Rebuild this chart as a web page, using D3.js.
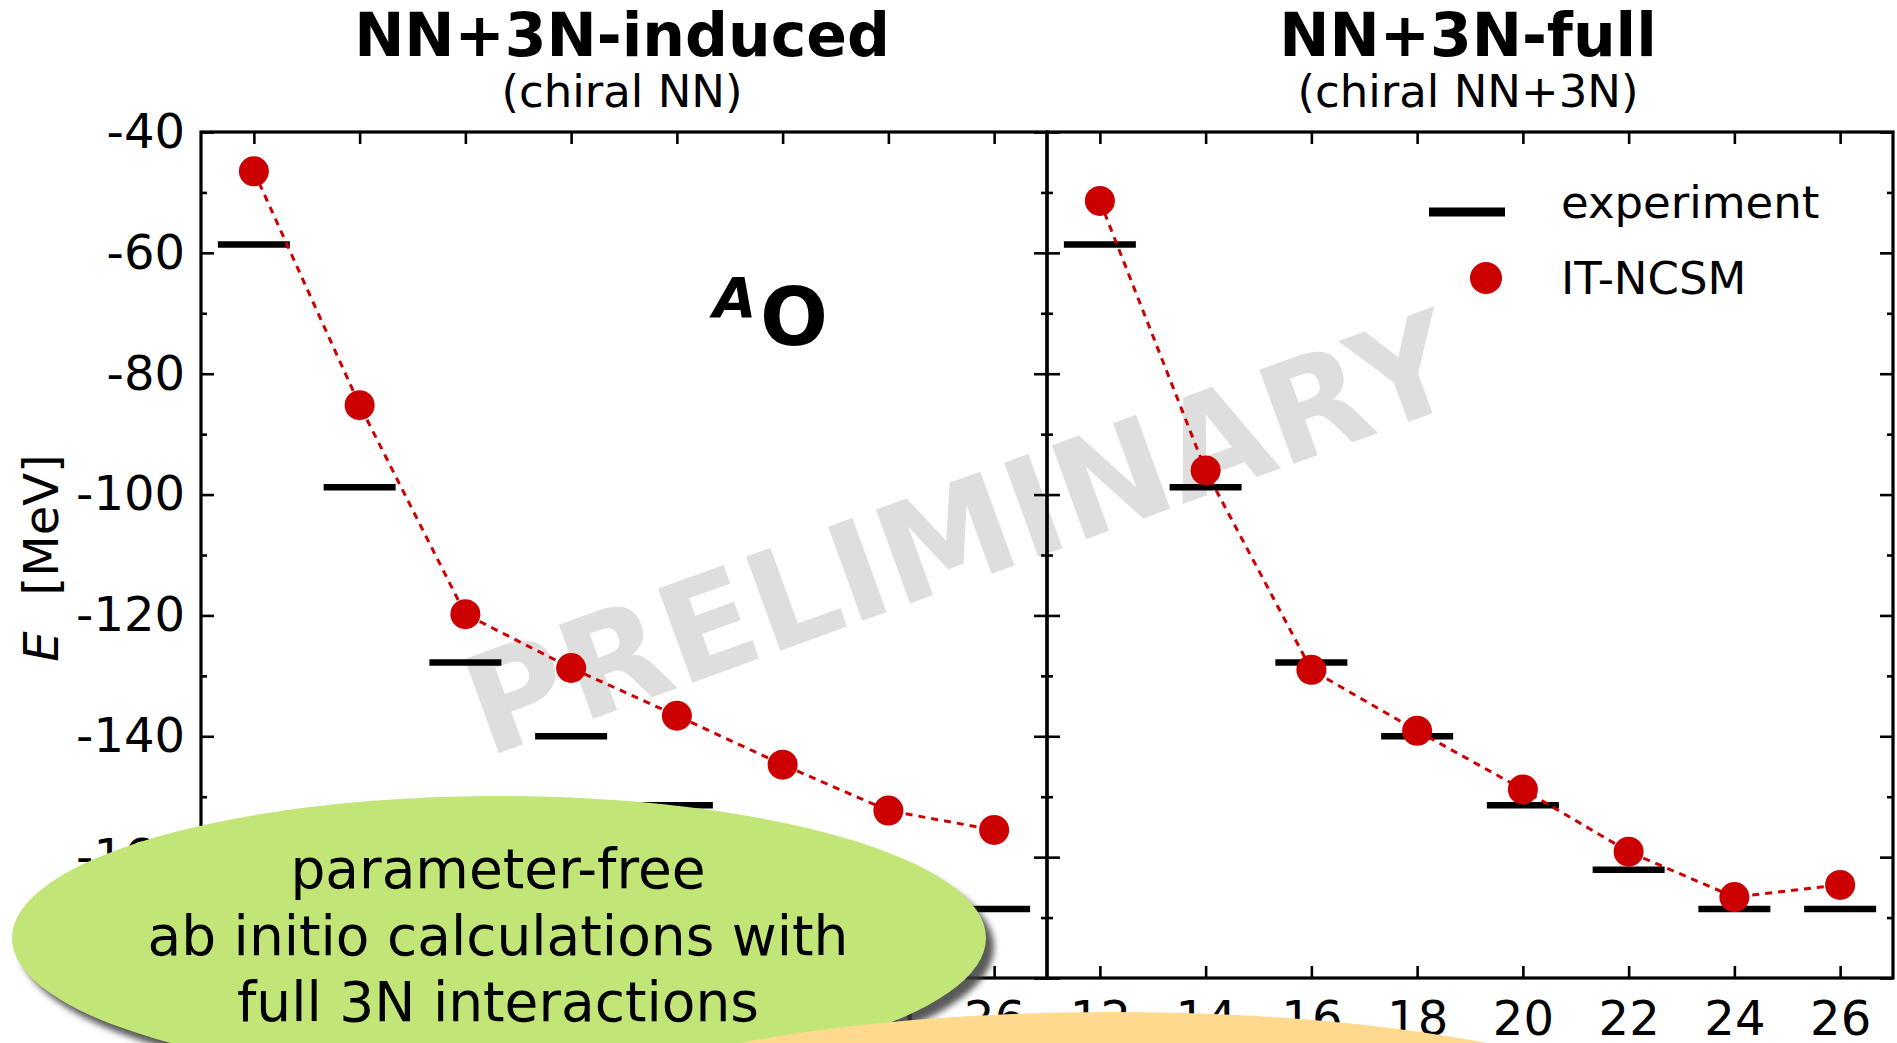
<!DOCTYPE html>
<html>
<head>
<meta charset="utf-8">
<script src="https://cdn.jsdelivr.net/npm/d3@7"></script>
<style>
  body { margin: 0; background: #fff; }
  svg text { font-family: "DejaVu Sans", sans-serif; }
</style>
</head>
<body>
<div id="chart"></div>
<script>
// oxygen chain, ground-state energies [MeV]
var massNumbers = [12, 14, 16, 18, 20, 22, 24, 26];
var experiment = [-58.6, -98.8, -127.8, -140.0, -151.4, -162.1, -168.6, -168.6];
var inducedNCSM = [-46.5, -85.2, -119.8, -128.7, -136.6, -144.7, -152.3, -155.5];
var fullNCSM = [-51.4, -96.0, -129.0, -139.1, -148.8, -159.1, -166.6, -164.6];

var yMajorTicks = [-180, -160, -140, -120, -100, -80, -60, -40];
var yMinorTicks = [-170, -150, -130, -110, -90, -70, -50];
var panelTitles = ['NN+3N-induced', 'NN+3N-full'];
var panelSubtitles = ['(chiral NN)', '(chiral NN+3N)'];
var legendLabels = ['experiment', 'IT-NCSM'];
var noteLines = ['parameter-free', 'ab initio calculations with', 'full 3N interactions'];

var width = 1897,
    height = 1043,
    plotTop = 132,
    plotBottom = 978,
    panelWidth = 846,
    panelLefts = [201, 1047],
    red = '#cc0000';

function translate(x, y) { return 'translate(' + x + ',' + y + ')'; }

var svg = d3.select('#chart')
    .append('svg')
        .attr('width', width)
        .attr('height', height);

var defs = svg.append('defs');
defs.append('filter')
    .attr('id', 'soft')
    .attr('x', '-10%').attr('y', '-10%').attr('width', '120%').attr('height', '130%')
    .append('feGaussianBlur').attr('stdDeviation', 3);

var y = d3.scaleLinear().domain([-180, -40]).range([plotBottom, plotTop]);

// watermark sits under everything
svg.append('text')
    .attr('transform', translate(977, 579) + ' rotate(-20)')
    .attr('text-anchor', 'middle')
    .attr('fill', '#dedede')
    .style('font-size', '137px')
    .style('font-weight', 'bold')
    .text('PRELIMINARY');

function styleAxis(sel) {
    sel.select('.domain').remove();
    sel.selectAll('line').attr('stroke', '#000').attr('stroke-width', 2.6);
    sel.selectAll('text').attr('fill', '#000').style('font-size', '48px');
}

var panels = [
    {values: inducedNCSM, yLabels: true},
    {values: fullNCSM, yLabels: false}
];

panels.forEach(function(p, i) {
    var x0 = panelLefts[i];
    var x = d3.scaleLinear().domain([11, 27]).range([x0, x0 + panelWidth]);
    var g = svg.append('g');

    // titles
    g.append('text')
        .attr('x', x0 + panelWidth / 2 - 2).attr('y', 56)
        .attr('text-anchor', 'middle')
        .style('font-size', '60px').style('font-weight', 'bold')
        .text(panelTitles[i]);
    g.append('text')
        .attr('x', x0 + panelWidth / 2 - 2).attr('y', 107)
        .attr('text-anchor', 'middle')
        .style('font-size', '45px')
        .text(panelSubtitles[i]);

    // ticks, all pointing inward
    g.append('g').attr('transform', translate(0, plotBottom))
        .call(d3.axisBottom(x).tickValues(massNumbers).tickSize(-12).tickPadding(23))
        .call(styleAxis);
    g.append('g').attr('transform', translate(0, plotTop))
        .call(d3.axisTop(x).tickValues(massNumbers).tickSize(-12).tickFormat(''))
        .call(styleAxis);
    g.append('g').attr('transform', translate(x0, 0))
        .call(d3.axisLeft(y).tickValues(yMajorTicks).tickSize(-13).tickPadding(16)
            .tickFormat(p.yLabels ? d3.format('d') : ''))
        .call(styleAxis);
    g.append('g').attr('transform', translate(x0, 0))
        .call(d3.axisLeft(y).tickValues(yMinorTicks).tickSize(-6).tickFormat(''))
        .call(styleAxis);
    g.append('g').attr('transform', translate(x0 + panelWidth, 0))
        .call(d3.axisRight(y).tickValues(yMajorTicks).tickSize(-13).tickFormat(''))
        .call(styleAxis);
    g.append('g').attr('transform', translate(x0 + panelWidth, 0))
        .call(d3.axisRight(y).tickValues(yMinorTicks).tickSize(-6).tickFormat(''))
        .call(styleAxis);
    // plain hyphen minus, as in the original
    g.selectAll('.tick text').text(function() { return d3.select(this).text().replace('\u2212', '-'); });

    g.append('rect')
        .attr('x', x0).attr('y', plotTop)
        .attr('width', panelWidth).attr('height', plotBottom - plotTop)
        .attr('fill', 'none').attr('stroke', '#000').attr('stroke-width', 3.2);

    // experiment bars
    g.selectAll('.exp')
        .data(massNumbers)
        .enter()
        .append('line')
            .attr('class', 'exp')
            .attr('x1', function(d) { return x(d) - 36; })
            .attr('x2', function(d) { return x(d) + 36; })
            .attr('y1', function(d, j) { return y(experiment[j]); })
            .attr('y2', function(d, j) { return y(experiment[j]); })
            .attr('stroke', '#000').attr('stroke-width', 6.5);

    // IT-NCSM
    var line = d3.line()
        .x(function(d, j) { return x(massNumbers[j]); })
        .y(function(d) { return y(d); });
    g.append('path')
        .attr('d', line(p.values))
        .attr('fill', 'none').attr('stroke', red)
        .attr('stroke-width', 3).attr('stroke-dasharray', '7,6');
    g.selectAll('.ncsm')
        .data(p.values)
        .enter()
        .append('circle')
            .attr('class', 'ncsm')
            .attr('cx', function(d, j) { return x(massNumbers[j]); })
            .attr('cy', function(d) { return y(d); })
            .attr('r', 15)
            .attr('fill', red);
});

// nucleus label
var nuc = svg.append('text').style('font-weight', 'bold');
nuc.append('tspan').attr('x', 713).attr('y', 317)
    .style('font-size', '56px').style('font-style', 'italic').text('A');
nuc.append('tspan').attr('x', 760).attr('y', 345)
    .style('font-size', '80px').text('O');

// legend
var leg = svg.append('g');
leg.append('line')
    .attr('x1', 1429).attr('x2', 1505).attr('y1', 212).attr('y2', 212)
    .attr('stroke', '#000').attr('stroke-width', 9);
leg.append('circle').attr('cx', 1486).attr('cy', 278).attr('r', 16).attr('fill', red);
leg.selectAll('.lab')
    .data(legendLabels)
    .enter()
    .append('text')
        .attr('x', 1561)
        .attr('y', function(d, j) { return 218 + j * 76; })
        .style('font-size', '45px')
        .text(function(d) { return d; });

// y axis title
var yt = svg.append('text')
    .attr('transform', translate(58, 558) + ' rotate(-90)')
    .attr('text-anchor', 'middle')
    .style('font-size', '48px');
yt.append('tspan').style('font-style', 'italic').text('E');
yt.append('tspan').attr('dx', 36).text('[MeV]');

// green note bubble with drop shadow
svg.append('ellipse')
    .attr('cx', 507).attr('cy', 947).attr('rx', 487).attr('ry', 142)
    .attr('fill', '#3c3c3c').attr('opacity', 0.85)
    .attr('filter', 'url(#soft)');
svg.append('ellipse')
    .attr('cx', 499).attr('cy', 938).attr('rx', 487).attr('ry', 142)
    .attr('fill', '#c1e577');
svg.selectAll('.note')
    .data(noteLines)
    .enter()
    .append('text')
        .attr('class', 'note')
        .attr('x', 498)
        .attr('y', function(d, j) { return 888 + j * 66.5; })
        .attr('text-anchor', 'middle')
        .style('font-size', '55px')
        .text(function(d) { return d; });

// orange bubble peeking in from below
svg.append('ellipse')
    .attr('cx', 1113).attr('cy', 1154).attr('rx', 600).attr('ry', 142)
    .attr('fill', '#fed98e');
</script>
</body>
</html>
